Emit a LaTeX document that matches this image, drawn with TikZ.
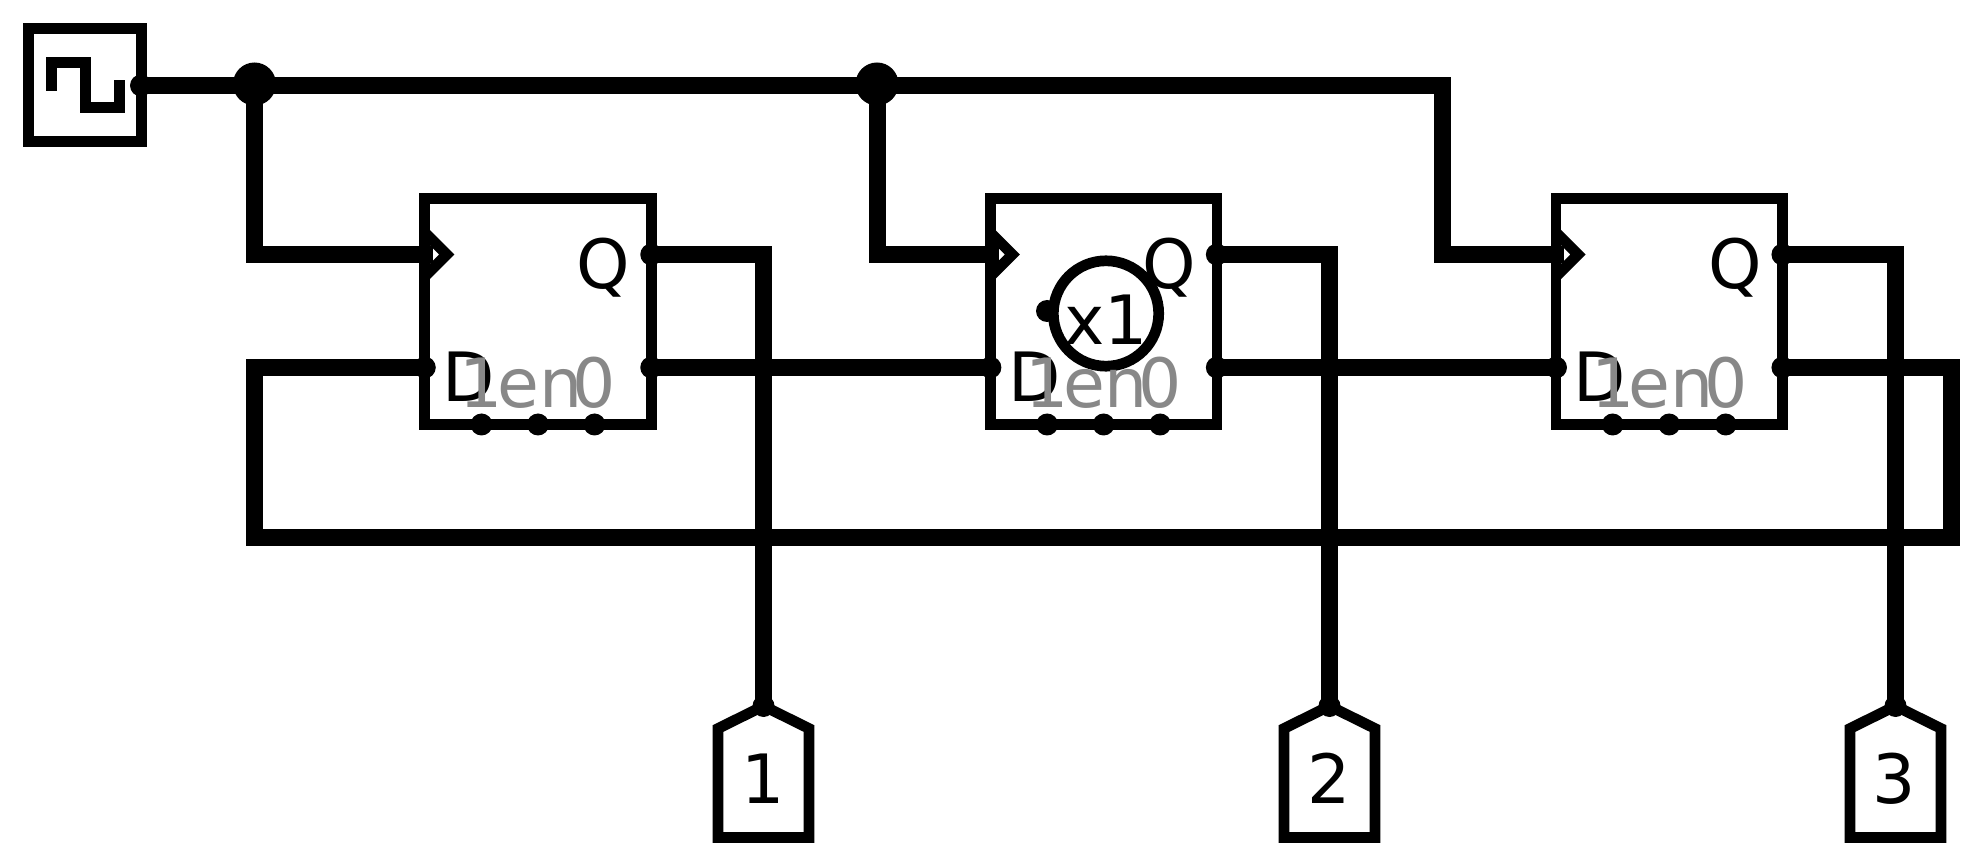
\documentclass[tikz,border=0pt]{standalone}
\usepackage{fontspec}
\setmainfont{DejaVu Sans}
\usetikzlibrary{positioning, calc}
\definecolor{pingrey}{RGB}{136,136,136}

\tikzset{
  wire/.style={line width=8.5pt},
  outline/.style={line width=5.35pt},
  portdot/.style={circle, fill=black, inner sep=0pt, minimum size=11pt},
  joint/.style={circle, fill=black, inner sep=0pt, minimum size=21.5pt},
  ffbox/.style={rectangle, draw, outline, fill=white, outer sep=0pt, minimum width=113.25pt, minimum height=113pt},
  biglabel/.style={anchor=base, inner sep=0pt, font=\fontsize{34pt}{40pt}\selectfont},
  greylabel/.style={biglabel, text=pingrey}
}

\begin{document}
\begin{tikzpicture}[x=0.5pt, y=-0.5pt]
        \useasboundingbox (0,0) rectangle (1986,865);

        % Clock source
        \node[rectangle, draw, outline, fill=white, outer sep=0pt, minimum size=56.5pt] (clk) at (85,85) {};
        \node[portdot] (clkout) at (141,85.5) {};
        \draw[outline] (51.5,91) -- (51.5,62.5) -- (85.5,62.5) -- (85.5,107.5) -- (119.5,107.5) -- (119.5,80);

        % Joints on the clock line
        \node[joint] (joint1) at (254.5,84) {};
        \node[joint] (joint2) at (877,84) {};

        % Flip-flop 1
        \node[ffbox] (ff1) at (538,311.5) {};
        \coordinate (ff1clk) at ($(ff1.north west)+(8.5,56)$);
        \node[portdot] (ff1d) at ($(ff1.north west)+(0,169)$) {};
        \node[portdot] (ff1q) at ($(ff1.north east)+(0,56)$) {};
        \node[portdot] (ff1en) at ($(ff1.north east)+(0,169)$) {};
        \node[portdot] (ff1a) at ($(ff1.south)+(-56.5,0)$) {};
        \node[portdot] (ff1b) at (ff1.south) {};
        \node[portdot] (ff1c) at ($(ff1.south)+(56.5,0)$) {};
        \draw[outline] ($(ff1.north west)+(0,34)$) -- ++(22,22) -- ++(-22,22);
        \node[biglabel] (ff1qtext) at ($(ff1q)+(-47.5,34.5)$) {Q};
        \node[biglabel] (ff1dtext) at ($(ff1d)+(44,34.2)$) {D};
        \node[greylabel] (ff1atext) at ($(ff1a)+(0,-17)$) {1};
        \node[greylabel] (ff1btext) at ($(ff1b)+(2,-17)$) {en};
        \node[greylabel] (ff1ctext) at ($(ff1c)+(0,-17)$) {0};

        % Flip-flop 2
        \node[ffbox, right=169.55pt of ff1] (ff2) {};
        \coordinate (ff2clk) at ($(ff2.north west)+(8.5,56)$);
        \node[portdot] (ff2d) at ($(ff2.north west)+(0,169)$) {};
        \node[portdot] (ff2q) at ($(ff2.north east)+(0,56)$) {};
        \node[portdot] (ff2en) at ($(ff2.north east)+(0,169)$) {};
        \node[portdot] (ff2a) at ($(ff2.south)+(-56.5,0)$) {};
        \node[portdot] (ff2b) at (ff2.south) {};
        \node[portdot] (ff2c) at ($(ff2.south)+(56.5,0)$) {};
        \draw[outline] ($(ff2.north west)+(0,34)$) -- ++(22,22) -- ++(-22,22);

        % Buffer inside flip-flop 2
        \node[portdot] (x1dot) at (1047,311) {};
        \node[circle, draw, outline, fill=white, inner sep=0pt, minimum size=52.7pt] (x1) at (1106,313.5) {};
        \node[biglabel] (x1text) at (1106,345) {x1};

        \node[biglabel] (ff2qtext) at ($(ff2q)+(-47.5,34.5)$) {Q};
        \node[biglabel] (ff2dtext) at ($(ff2d)+(44,34.2)$) {D};
        \node[greylabel] (ff2atext) at ($(ff2a)+(0,-17)$) {1};
        \node[greylabel] (ff2btext) at ($(ff2b)+(2,-17)$) {en};
        \node[greylabel] (ff2ctext) at ($(ff2c)+(0,-17)$) {0};

        % Flip-flop 3
        \node[ffbox, right=169.55pt of ff2] (ff3) {};
        \coordinate (ff3clk) at ($(ff3.north west)+(8.5,56)$);
        \node[portdot] (ff3d) at ($(ff3.north west)+(0,169)$) {};
        \node[portdot] (ff3q) at ($(ff3.north east)+(0,56)$) {};
        \node[portdot] (ff3en) at ($(ff3.north east)+(0,169)$) {};
        \node[portdot] (ff3a) at ($(ff3.south)+(-56.5,0)$) {};
        \node[portdot] (ff3b) at (ff3.south) {};
        \node[portdot] (ff3c) at ($(ff3.south)+(56.5,0)$) {};
        \draw[outline] ($(ff3.north west)+(0,34)$) -- ++(22,22) -- ++(-22,22);
        \node[biglabel] (ff3qtext) at ($(ff3q)+(-47.5,34.5)$) {Q};
        \node[biglabel] (ff3dtext) at ($(ff3d)+(44,34.2)$) {D};
        \node[greylabel] (ff3atext) at ($(ff3a)+(0,-17)$) {1};
        \node[greylabel] (ff3btext) at ($(ff3b)+(2,-17)$) {en};
        \node[greylabel] (ff3ctext) at ($(ff3c)+(0,-17)$) {0};

        % Output pins
        \node[biglabel] (pin1) at (763.5,803.5) {1};
        \node[portdot] (pin1top) at (763.5,706) {};
        \draw[outline] (pin1top.center) -- ++(45.5,22.5) -- ++(0,109) -- ++(-91,0) -- ++(0,-109) -- cycle;
        \node[biglabel] (pin2) at (1329.5,803.5) {2};
        \node[portdot] (pin2top) at (1329.5,706) {};
        \draw[outline] (pin2top.center) -- ++(45.5,22.5) -- ++(0,109) -- ++(-91,0) -- ++(0,-109) -- cycle;
        \node[biglabel] (pin3) at (1894.5,803.5) {3};
        \node[portdot] (pin3top) at (1895.5,706) {};
        \draw[outline] (pin3top.center) -- ++(45.5,22.5) -- ++(0,109) -- ++(-91,0) -- ++(0,-109) -- cycle;

        % Clock wiring
        \draw[wire] (clkout.center) -- (1442.5,85.5) -- (1442.5,254.5) -- (ff3clk);
        \draw[wire] (joint1.center) -- (254.5,254.5) -- (ff1clk);
        \draw[wire] (joint2.center) -- (877,254.5) -- (ff2clk);

        % Chain and feedback
        \draw[wire] (ff1en.center) -- (ff2d.center);
        \draw[wire] (ff2en.center) -- (ff3d.center);
        \draw[wire] (ff3en.center) -- (1951.3,367.5) -- (1951.3,537.3) -- (254.5,537.3) -- (254.5,367.5) -- (ff1d.center);

        % Q outputs
        \draw[wire] (ff1q.center) -| (pin1top.center);
        \draw[wire] (ff2q.center) -| (pin2top.center);
        \draw[wire] (ff3q.center) -| (pin3top.center);
\end{tikzpicture}
\end{document}
